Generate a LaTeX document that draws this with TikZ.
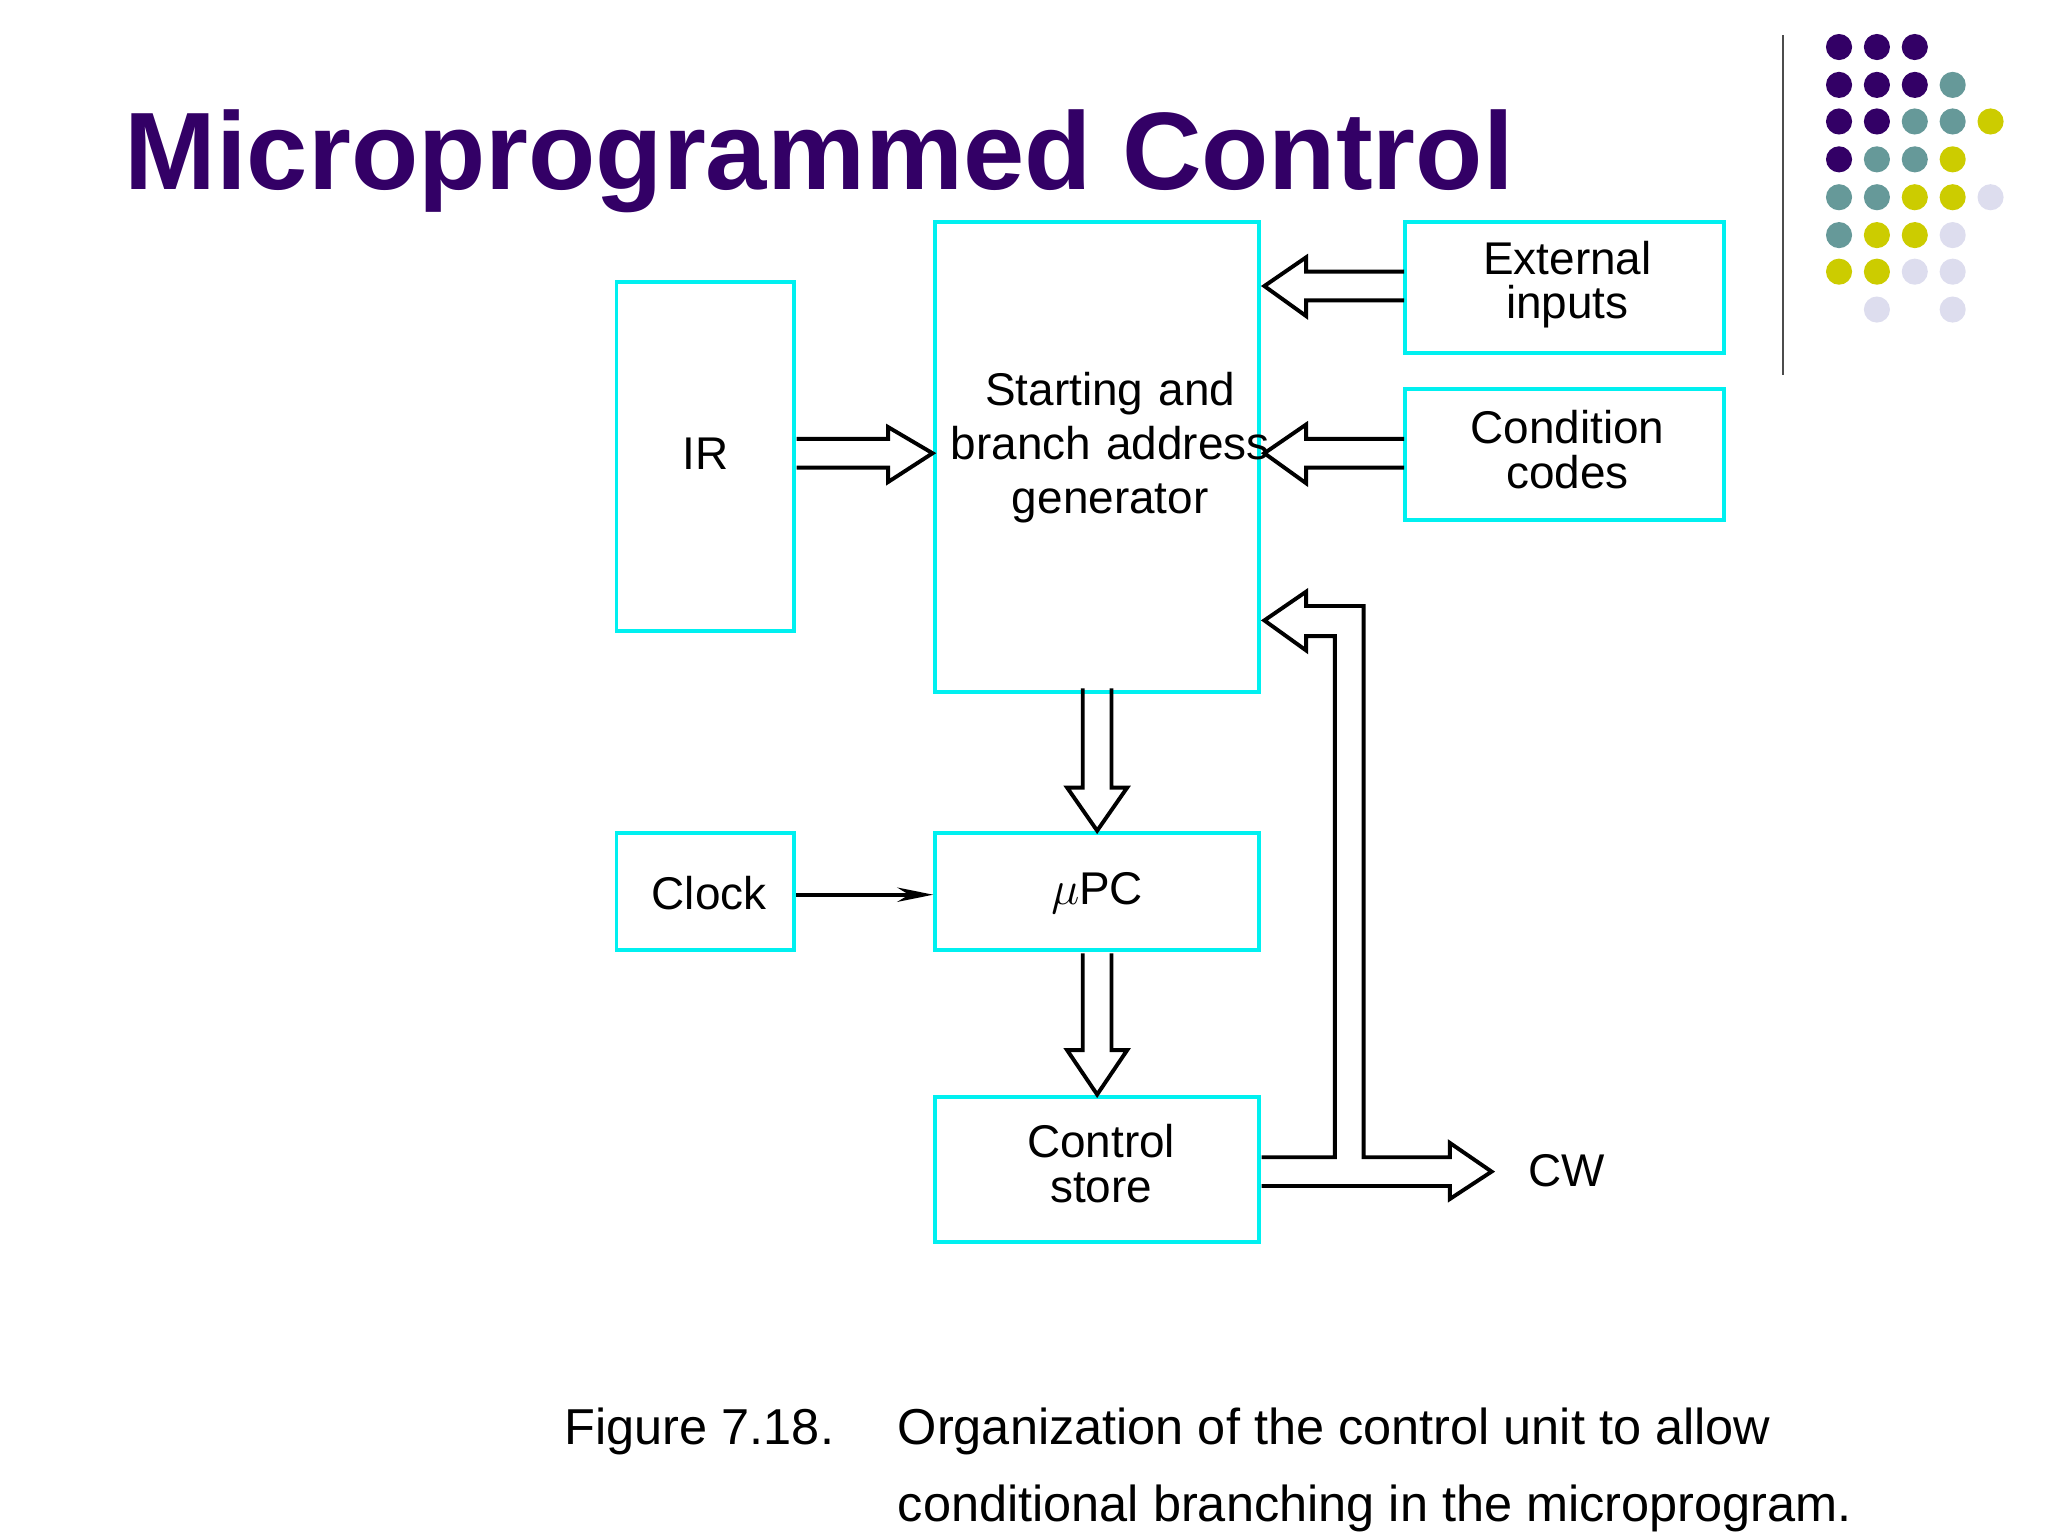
\documentclass[tikz,border=0pt]{standalone}
\usepackage{fontspec}
\setmainfont{Liberation Sans}
\usetikzlibrary{fit,arrows.meta}
\definecolor{pur}{HTML}{330066}
\definecolor{tea}{HTML}{669999}
\definecolor{yel}{HTML}{CCCC00}
\definecolor{lav}{HTML}{DDDDEE}
\definecolor{cy}{HTML}{00F0F0}
\begin{document}
\begin{tikzpicture}[x=0.02cm,y=-0.02cm,
 box/.style={draw=cy,line width=0.06cm,inner sep=0pt},
 arr/.style={draw=black,line width=1.7pt,line join=miter},
 lab/.style={font=\fontsize{20}{23.5}\selectfont,align=center,inner sep=0pt},
 dot/.style={circle,minimum size=0.4cm,inner sep=0pt}]
\useasboundingbox (0,0) rectangle (1568,1176);
\node[anchor=base west,text=pur,font=\fontsize{48}{55}\selectfont\bfseries,inner sep=0] (title) at (95,145) {Microprogrammed Control};
\draw[black!70,line width=1pt] (1365,27) -- (1365,287);
% dots
\foreach \x/\y/\c in {1408/36/pur,1437/36/pur,1466/36/pur,
 1408/65/pur,1437/65/pur,1466/65/pur,1495/65/tea,
 1408/93/pur,1437/93/pur,1466/93/tea,1495/93/tea,1524/93/yel,
 1408/122/pur,1437/122/tea,1466/122/tea,1495/122/yel,
 1408/151/tea,1437/151/tea,1466/151/yel,1495/151/yel,1524/151/lav,
 1408/180/tea,1437/180/yel,1466/180/yel,1495/180/lav,
 1408/208/yel,1437/208/yel,1466/208/lav,1495/208/lav,
 1437/237/lav,1495/237/lav}
 \fill[\c] (\x,\y) circle (0.2cm);
% boxes
\node[box,fit={(472,216)(608,483)}] (ir) {};
\node[box,fit={(716,170)(964,530)}] (gen) {};
\node[box,fit={(1076,170)(1320,270)}] (ext) {};
\node[box,fit={(1076,298)(1320,398)}] (cc) {};
\node[box,fit={(472,638)(608,727)}] (clk) {};
\node[box,fit={(716,638)(964,727)}] (upc) {};
\node[box,fit={(716,840)(964,951)}] (cs) {};
\node[lab] at (540,347) {IR};
\node[lab,text width=6cm] at (850,343) {Starting and\\[0em]branch address\\[0em]generator};
\node[lab] at (1200,218) {External\\[-0.2em]inputs};
\node[lab] at (1200,344) {Condition\\[-0.2em]codes};
\node[lab] at (543,684) {Clock};
\node[lab] at (840,684) {$\mu$PC};
\node[lab] at (843,891) {Control\\[-0.2em]store};
\node[lab,anchor=west] (cw) at (1170,896) {CW};
% arrows
\draw[arr] (610,336) -- (680,336) -- (680,327) -- (714,347) -- (680,369) -- (680,358) -- (610,358);
\draw[arr] (1075,208) -- (1000,208) -- (1000,197) -- (968,219) -- (1000,242) -- (1000,230) -- (1075,230);
\draw[arr] (1075,336) -- (1000,336) -- (1000,325) -- (968,347) -- (1000,370) -- (1000,358) -- (1075,358);
\draw[arr] (829,527) -- (829,603) -- (817,603) -- (840,636) -- (863,603) -- (851,603) -- (851,527);
\draw[arr] (829,730) -- (829,804) -- (817,804) -- (840,838) -- (863,804) -- (851,804) -- (851,730);
\draw[arr] (966,886) -- (1022,886) -- (1022,487) -- (1000,487) -- (1000,498) -- (968,475) -- (1000,453) -- (1000,464) -- (1044,464) -- (1044,886) -- (1110,886) -- (1110,875) -- (1142,897) -- (1110,918) -- (1110,908) -- (966,908);
\draw[line width=1.7pt,-{Stealth[length=0.55cm,width=0.22cm]}] (clk.east|-0,685) -- (upc.west|-0,685);
% caption
\node[lab,anchor=base west,font=\fontsize{22}{26}\selectfont] at (432,1106) {Figure 7.18.};
\node[lab,anchor=base west,font=\fontsize{22}{26}\selectfont] at (687,1106) {Organization of the control unit to allow};
\node[lab,anchor=base west,font=\fontsize{22}{26}\selectfont] at (687,1165) {conditional branching in the microprogram.};
\end{tikzpicture}
\end{document}
